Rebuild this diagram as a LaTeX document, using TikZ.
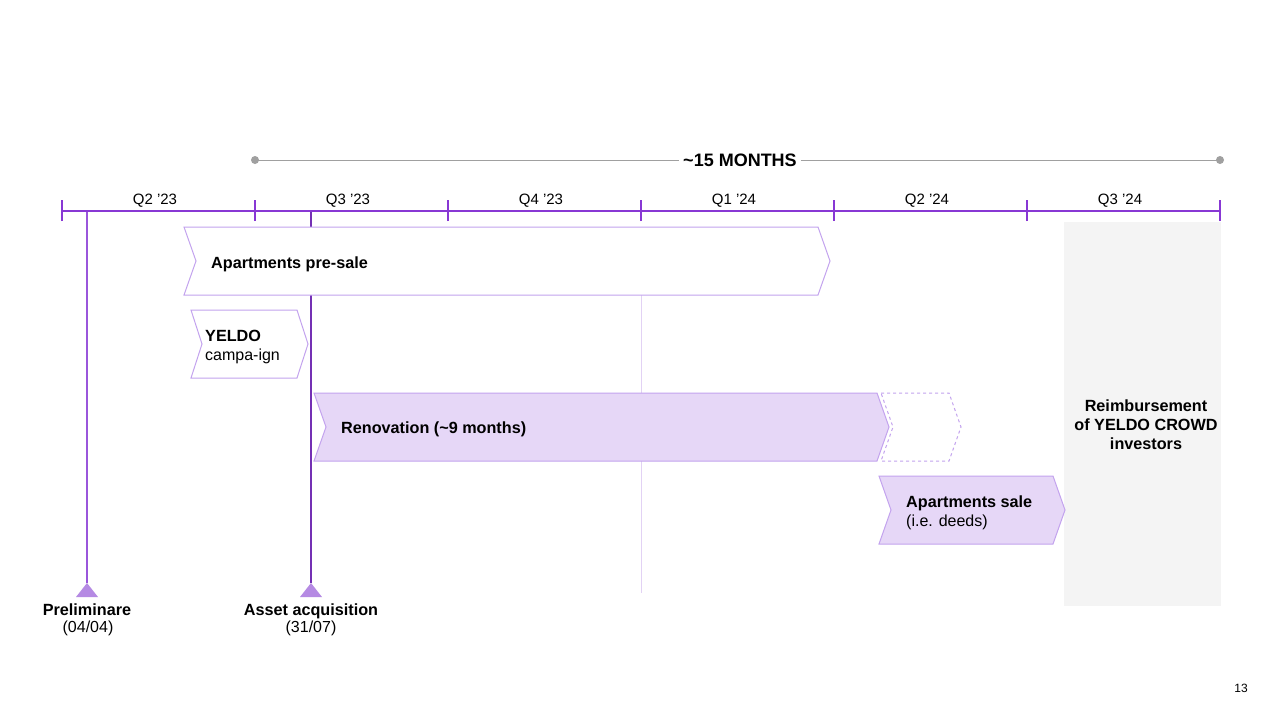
\documentclass[tikz,border=0pt]{standalone}
\usepackage{fontspec}
\setmainfont{Liberation Sans}
\definecolor{tl}{HTML}{8838D4}
\definecolor{edge}{HTML}{C3A3EE}
\definecolor{lav}{HTML}{E6D7F7}
\definecolor{tri}{HTML}{B58AE3}
\definecolor{gline}{HTML}{A0A0A0}
\definecolor{gbox}{HTML}{F4F4F4}
\definecolor{faint}{HTML}{E2D2F4}
\tikzset{
  qlab/.style={anchor=base, inner sep=0pt, font=\fontsize{15}{18}\selectfont},
  btxt/.style={anchor=base west, inner sep=0pt, font=\fontsize{16.2}{19}\selectfont\bfseries},
  rtxt/.style={anchor=base west, inner sep=0pt, font=\fontsize{16}{19}\selectfont},
  ctxt/.style={anchor=base, inner sep=0pt, font=\fontsize{16.2}{19}\selectfont\bfseries},
  chevw/.style={draw=edge, line width=1pt, fill=white},
  chevf/.style={draw=edge, line width=1pt, fill=lav},
  chevd/.style={draw=edge, line width=1pt, dashed, fill=white},
  tick/.style={draw=tl, line width=2.4pt},
  marker/.style={fill=tri, draw=none},
}
\begin{document}
\begin{tikzpicture}[x=1pt,y=-1pt]
\useasboundingbox (0,0) rectangle (1280,720);
\fill[white] (0,0) rectangle (1280,720);
% grey reimbursement box
\fill[gbox] (1064,222) rectangle (1221,606);
% vertical guide lines
\coordinate (prelTop) at (87,211);
\coordinate (assetTop) at (311,211);
\coordinate (q1Top) at (641,295);
\coordinate (q1Bot) at (641,593);
\draw[faint, line width=1pt] (q1Top) -- (q1Bot);
% markers
\coordinate (prelTip) at (87,583);
\coordinate (assetTip) at (311,583);
\fill[marker] (prelTip) -- (98,597) -- (76,597) -- cycle;
\fill[marker] (assetTip) -- (322,597) -- (300,597) -- cycle;
\draw[tl!85, line width=1.4pt] (prelTop) -- (prelTip);
\draw[tl!85!black, line width=1.2pt] (assetTop) -- (assetTip);
% chevrons
\draw[chevw] (184,227) -- (818,227) -- (830,261) -- (818,295) -- (184,295) -- (196,261) -- cycle;
\draw[chevw] (191,310) -- (297,310) -- (308,344) -- (297,378) -- (191,378) -- (202,344) -- cycle;
\draw[chevf] (314,393) -- (877,393) -- (889,427) -- (877,461) -- (314,461) -- (326,427) -- cycle;
\draw[chevd] (881,393) -- (949,393) -- (961,427) -- (949,461) -- (881,461) -- (893,427) -- cycle;
\draw[chevf] (879,476) -- (1053,476) -- (1065,510) -- (1053,544) -- (879,544) -- (891,510) -- cycle;
% chevron texts
\node[btxt] (presale) at (211,268) {Apartments pre-sale};
\node[btxt] (yeldo) at (205,341) {YELDO};
\node[rtxt] (campaign) at (205,360) {campa-ign};
\node[btxt] (renov) at (341,433) {Renovation (\char`\~9 months)};
\node[btxt] (sale) at (906,507) {Apartments sale};
\node[rtxt] (deeds) at (906,526) {(i.e. deeds)};
\node[ctxt] (reimb1) at (1146,411) {Reimbursement};
\node[ctxt] (reimb2) at (1146,430) {of YELDO CROWD};
\node[ctxt] (reimb3) at (1146,449) {investors};
% milestone labels
\node[ctxt] (prel) at (87,615) {Preliminare};
\node[anchor=base, inner sep=0pt, font=\fontsize{16}{19}\selectfont] (preldate) at (88,632) {(04/04)};
\node[ctxt] (asset) at (311,615) {Asset acquisition};
\node[anchor=base, inner sep=0pt, font=\fontsize{16}{19}\selectfont] (assetdate) at (311,632) {(31/07)};
% duration bar
\coordinate (dL) at (255,160);
\coordinate (dR) at (1220,160);
\node[anchor=base, inner sep=4pt, font=\fontsize{18}{21}\selectfont\bfseries] (dur) at (740,166.5) {\char`\~15 MONTHS};
\draw[gline, line width=1pt] (dL) -- (dur.west |- dL);
\draw[gline, line width=1pt] (dur.east |- dR) -- (dR);
\fill[gline] (dL) circle (4);
\fill[gline] (dR) circle (4);
% timeline
\coordinate (t0) at (62,211);
\coordinate (t1) at (255,211);
\coordinate (t2) at (448,211);
\coordinate (t3) at (641,211);
\coordinate (t4) at (834,211);
\coordinate (t5) at (1027,211);
\coordinate (t6) at (1220,211);
\draw[tl, line width=2.2pt] (t0) -- (t6);
\foreach \t in {t0,t1,t2,t3,t4,t5,t6}{
  \draw[tick] ([yshift=-10]\t) -- ([yshift=11]\t);
}
\node[qlab] (qa) at (155,204) {Q2 ’23};
\node[qlab] (qb) at (348,204) {Q3 ’23};
\node[qlab] (qc) at (541,204) {Q4 ’23};
\node[qlab] (qd) at (734,204) {Q1 ’24};
\node[qlab] (qe) at (927,204) {Q2 ’24};
\node[qlab] (qf) at (1120,204) {Q3 ’24};
% page number
\node[anchor=base, inner sep=0pt, font=\fontsize{12}{14}\selectfont] (pg) at (1241,692) {13};
\end{tikzpicture}
\end{document}
